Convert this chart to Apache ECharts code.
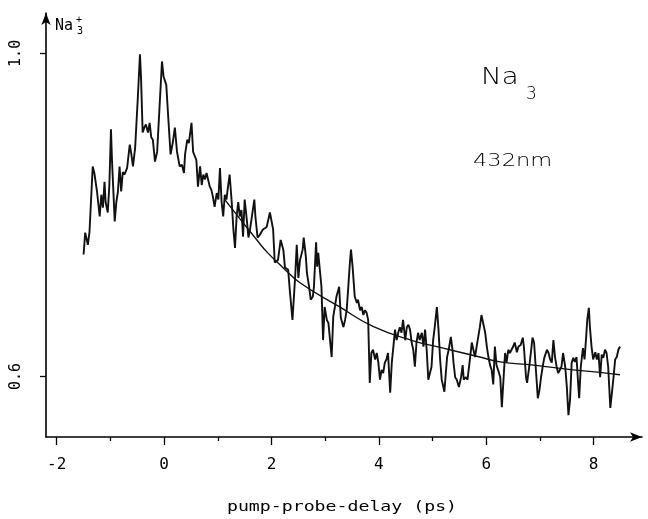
<!DOCTYPE html>
<html>
<head>
    <meta charset="utf-8" />
    <title>Na3 pump-probe 432nm</title>
    <script src="https://cdn.jsdelivr.net/npm/echarts@6.0.0/dist/echarts.min.js"></script>
    <style>
        html, body { margin: 0; padding: 0; background: #fff; }
        #echart { width: 648px; height: 519px; }
    </style>
</head>
<body>
    <div id="echart"></div>
<script>
    // pump-probe delay (ps) and Na3+ signal
    var delayPs = [
        -1.50, -1.47, -1.42, -1.39, -1.33, -1.30, -1.25, -1.20, -1.17, -1.14,
        -1.11, -1.09, -1.05, -1.02, -0.99, -0.97, -0.92, -0.89, -0.86, -0.83,
        -0.80, -0.77, -0.74, -0.69, -0.64, -0.61, -0.58, -0.54, -0.49, -0.45,
        -0.43, -0.40, -0.37, -0.34, -0.30, -0.27, -0.24, -0.21, -0.17, -0.13,
        -0.09, -0.04, -0.01, 0.04, 0.07, 0.12, 0.16, 0.20, 0.24, 0.29,
        0.33, 0.37, 0.39, 0.43, 0.46, 0.51, 0.54, 0.57, 0.60, 0.63,
        0.67, 0.70, 0.73, 0.76, 0.79, 0.82, 0.85, 0.88, 0.91, 0.94,
        0.98, 1.01, 1.04, 1.07, 1.10, 1.13, 1.16, 1.19, 1.22, 1.26,
        1.29, 1.32, 1.35, 1.38, 1.41, 1.44, 1.47, 1.50, 1.54, 1.57,
        1.60, 1.63, 1.68, 1.70, 1.74, 1.78, 1.84, 1.91, 1.97, 2.00,
        2.03, 2.06, 2.12, 2.17, 2.22, 2.25, 2.31, 2.34, 2.39, 2.44,
        2.47, 2.50, 2.53, 2.58, 2.60, 2.64, 2.66, 2.70, 2.73, 2.77,
        2.79, 2.83, 2.85, 2.87, 2.90, 2.93, 2.96, 2.99, 3.03, 3.06,
        3.09, 3.12, 3.15, 3.18, 3.21, 3.26, 3.29, 3.34, 3.37, 3.40,
        3.43, 3.46, 3.48, 3.51, 3.55, 3.59, 3.61, 3.65, 3.68, 3.71,
        3.74, 3.77, 3.80, 3.83, 3.86, 3.89, 3.93, 3.96, 3.99, 4.02,
        4.05, 4.08, 4.11, 4.14, 4.17, 4.21, 4.24, 4.27, 4.30, 4.33,
        4.36, 4.39, 4.42, 4.45, 4.49, 4.52, 4.55, 4.58, 4.61, 4.64,
        4.67, 4.70, 4.73, 4.76, 4.80, 4.83, 4.86, 4.89, 4.92, 4.95,
        4.98, 5.01, 5.04, 5.08, 5.11, 5.14, 5.17, 5.22, 5.24, 5.27,
        5.30, 5.34, 5.37, 5.39, 5.42, 5.45, 5.49, 5.53, 5.56, 5.58,
        5.62, 5.65, 5.70, 5.73, 5.76, 5.79, 5.82, 5.85, 5.88, 5.91,
        5.94, 5.98, 6.01, 6.04, 6.07, 6.10, 6.13, 6.16, 6.19, 6.22,
        6.26, 6.29, 6.35, 6.38, 6.41, 6.44, 6.50, 6.53, 6.57, 6.60,
        6.64, 6.68, 6.70, 6.74, 6.76, 6.80, 6.83, 6.86, 6.89, 6.92,
        6.96, 6.99, 7.02, 7.05, 7.08, 7.13, 7.16, 7.19, 7.22, 7.25,
        7.28, 7.31, 7.34, 7.37, 7.40, 7.43, 7.47, 7.50, 7.53, 7.56,
        7.59, 7.62, 7.65, 7.68, 7.71, 7.73, 7.76, 7.80, 7.83, 7.86,
        7.88, 7.91, 7.93, 7.96, 7.99, 8.03, 8.06, 8.09, 8.12, 8.15,
        8.18, 8.21, 8.24, 8.27, 8.31, 8.34, 8.37, 8.40, 8.43, 8.46, 8.49
    ];
    var signal = [
        0.751, 0.778, 0.763, 0.779, 0.860, 0.852, 0.829, 0.798, 0.825, 0.809,
        0.841, 0.816, 0.803, 0.837, 0.906, 0.866, 0.792, 0.816, 0.829, 0.860,
        0.829, 0.853, 0.850, 0.858, 0.887, 0.875, 0.860, 0.883, 0.945, 0.999,
        0.970, 0.902, 0.908, 0.912, 0.902, 0.914, 0.896, 0.893, 0.866, 0.878,
        0.928, 0.990, 0.971, 0.961, 0.928, 0.875, 0.889, 0.908, 0.878, 0.860,
        0.862, 0.852, 0.875, 0.893, 0.889, 0.914, 0.878, 0.877, 0.868, 0.835,
        0.860, 0.837, 0.850, 0.844, 0.852, 0.853, 0.835, 0.831, 0.822, 0.810,
        0.827, 0.819, 0.858, 0.816, 0.798, 0.825, 0.819, 0.835, 0.850, 0.815,
        0.782, 0.759, 0.798, 0.816, 0.798, 0.806, 0.773, 0.819, 0.794, 0.772,
        0.782, 0.782, 0.819, 0.798, 0.772, 0.775, 0.782, 0.785, 0.803, 0.804,
        0.782, 0.741, 0.744, 0.769, 0.757, 0.735, 0.732, 0.707, 0.670, 0.723,
        0.763, 0.722, 0.744, 0.757, 0.772, 0.748, 0.728, 0.711, 0.695, 0.699,
        0.711, 0.766, 0.736, 0.753, 0.732, 0.711, 0.645, 0.686, 0.670, 0.666,
        0.666, 0.624, 0.674, 0.686, 0.699, 0.711, 0.673, 0.661, 0.670, 0.682,
        0.711, 0.741, 0.757, 0.736, 0.699, 0.691, 0.695, 0.682, 0.686, 0.676,
        0.682, 0.679, 0.670, 0.592, 0.629, 0.633, 0.621, 0.629, 0.617, 0.596,
        0.608, 0.604, 0.617, 0.621, 0.629, 0.580, 0.617, 0.637, 0.658, 0.645,
        0.654, 0.661, 0.654, 0.670, 0.645, 0.661, 0.664, 0.658, 0.642, 0.633,
        0.612, 0.642, 0.654, 0.645, 0.654, 0.637, 0.658, 0.633, 0.596, 0.604,
        0.612, 0.645, 0.661, 0.686, 0.658, 0.621, 0.596, 0.581, 0.599, 0.624,
        0.633, 0.649, 0.633, 0.617, 0.599, 0.596, 0.587, 0.599, 0.614, 0.596,
        0.599, 0.596, 0.624, 0.642, 0.633, 0.624, 0.637, 0.649, 0.661, 0.676,
        0.674, 0.654, 0.637, 0.624, 0.614, 0.608, 0.590, 0.637, 0.614, 0.608,
        0.599, 0.562, 0.629, 0.618, 0.633, 0.629, 0.637, 0.642, 0.630, 0.637,
        0.639, 0.648, 0.637, 0.599, 0.592, 0.612, 0.629, 0.648, 0.642, 0.612,
        0.573, 0.583, 0.599, 0.612, 0.623, 0.633, 0.629, 0.621, 0.617, 0.645,
        0.624, 0.612, 0.604, 0.602, 0.612, 0.629, 0.612, 0.587, 0.552, 0.571,
        0.617, 0.623, 0.618, 0.624, 0.592, 0.573, 0.612, 0.635, 0.621, 0.649,
        0.670, 0.685, 0.661, 0.637, 0.621, 0.630, 0.621, 0.629, 0.599, 0.627,
        0.623, 0.633, 0.629, 0.612, 0.561, 0.580, 0.599, 0.621, 0.624, 0.633, 0.637
    ];
    // fitted decay curve
    var fitDelay = [1.13, 1.75, 1.93, 2.21, 2.53, 3.27, 3.89, 4.64, 5.14, 5.88, 6.26, 6.88, 7.50, 8.12, 8.49];
    var fitSignal = [0.819, 0.767, 0.753, 0.735, 0.716, 0.686, 0.662, 0.644, 0.636, 0.624, 0.618, 0.614, 0.609, 0.605, 0.602];

    var xLabelValues = [-2, 0, 2, 4, 6, 8];
    var xMinorTicks = [-1, 1, 3, 5, 7];
    var yLabelValues = [0.6, 1.0];

    var mono = 'DejaVu Sans Mono';

    var myChart = echarts.init(document.getElementById('echart'));

    var traceData = delayPs.map(function (t, i) { return [t, signal[i]]; });
    var fitData = fitDelay.map(function (t, i) { return [t, fitSignal[i]]; });

    var option = {
        backgroundColor: '#fff',
        animation: false,
        grid: { left: 46, right: 6, top: 13, bottom: 82 },
        xAxis: [
            {
                type: 'value',
                min: -2.2,
                max: 8.9,
                splitLine: { show: false },
                axisLine: {
                    onZero: false,
                    symbol: ['none', 'arrow'],
                    symbolSize: [7, 12],
                    lineStyle: { color: '#000', width: 1.6 }
                },
                axisTick: {
                    customValues: xLabelValues,
                    length: 8,
                    lineStyle: { color: '#000', width: 1.3 }
                },
                axisLabel: {
                    customValues: xLabelValues,
                    margin: 20,
                    color: '#000',
                    fontFamily: mono,
                    fontSize: 16
                }
            },
            {
                // minor ticks only (odd ps)
                type: 'value',
                position: 'bottom',
                min: -2.2,
                max: 8.9,
                splitLine: { show: false },
                axisLine: { show: false, onZero: false },
                axisTick: {
                    customValues: xMinorTicks,
                    length: 4,
                    lineStyle: { color: '#000', width: 1.3 }
                },
                axisLabel: { show: false }
            }
        ],
        yAxis: {
            type: 'value',
            min: 0.525,
            max: 1.05,
            splitLine: { show: false },
            axisLine: {
                onZero: false,
                symbol: ['none', 'arrow'],
                symbolSize: [7, 12],
                lineStyle: { color: '#000', width: 1.6 }
            },
            axisTick: {
                customValues: yLabelValues,
                length: 6,
                lineStyle: { color: '#000', width: 1.3 }
            },
            axisLabel: {
                customValues: yLabelValues,
                rotate: 90,
                margin: 22,
                color: '#000',
                fontFamily: mono,
                fontSize: 15,
                formatter: function (v) { return v.toFixed(1); }
            }
        },
        graphic: [
            // y axis title Na3+
            { type: 'text', left: 55, top: 19, style: { text: 'Na', font: '15px ' + mono, fill: '#000' } },
            { type: 'text', left: 76, top: 15, style: { text: '+', font: '10px ' + mono, fill: '#000' } },
            { type: 'text', left: 77, top: 26, style: { text: '3', font: '10px ' + mono, fill: '#000' } },
            // labels inside the plot
            { type: 'text', x: 481, y: 67, scaleX: 1.2, style: { text: 'Na', font: '200 23px "DejaVu Sans"', fill: '#000' } },
            { type: 'text', x: 526, y: 86, style: { text: '3', font: '200 17px "DejaVu Sans"', fill: '#000' } },
            { type: 'text', x: 473, y: 152, scaleX: 1.25, style: { text: '432nm', font: '200 18px "DejaVu Sans"', fill: '#000' } },
            // x axis title
            { type: 'text', x: 342, y: 507, scaleX: 1.3, style: { text: 'pump-probe-delay (ps)', font: '14px ' + mono, fill: '#000', align: 'center', verticalAlign: 'middle' } }
        ],
        series: [
            {
                name: 'Na3+',
                type: 'line',
                data: traceData,
                showSymbol: false,
                lineStyle: { color: '#111', width: 1.9 }
            },
            {
                name: 'fit',
                type: 'line',
                data: fitData,
                smooth: true,
                showSymbol: false,
                lineStyle: { color: '#111', width: 1.4 }
            }
        ]
    };
    myChart.setOption(option);
</script>
</body>
</html>
